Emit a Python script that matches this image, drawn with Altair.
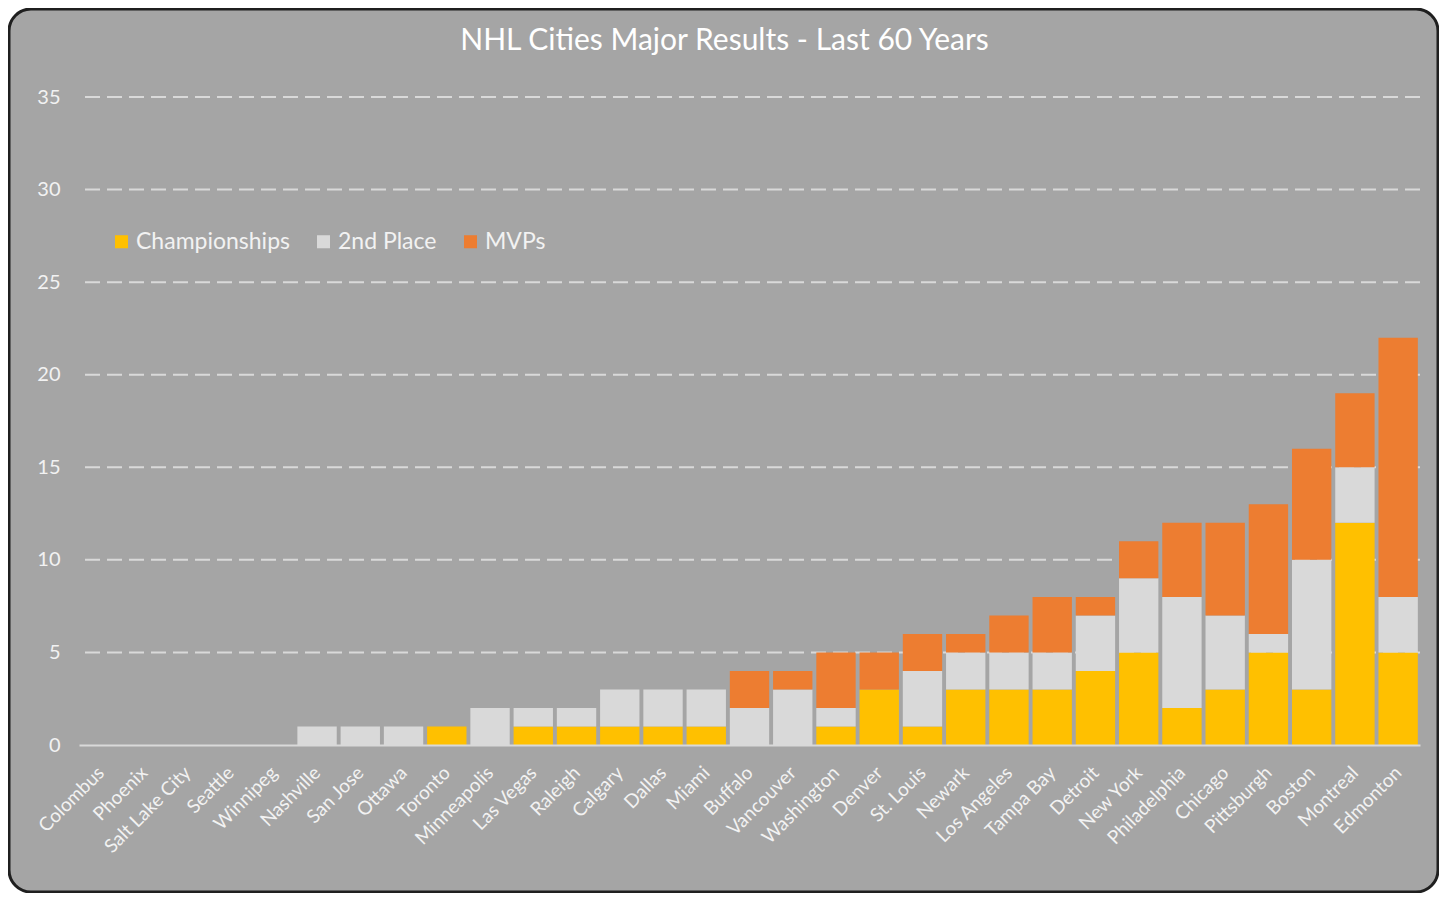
import altair as alt
import pandas as pd

cities = ["Colombus", "Phoenix", "Salt Lake City", "Seattle", "Winnipeg", "Nashville",
          "San Jose", "Ottawa", "Toronto", "Minneapolis", "Las Vegas", "Raleigh",
          "Calgary", "Dallas", "Miami", "Buffalo", "Vancouver", "Washington", "Denver",
          "St. Louis", "Newark", "Los Angeles", "Tampa Bay", "Detroit", "New York",
          "Philadelphia", "Chicago", "Pittsburgh", "Boston", "Montreal", "Edmonton"]
championships = [0, 0, 0, 0, 0, 0, 0, 0, 1, 0, 1, 1, 1, 1, 1, 0, 0, 1, 3, 1, 3, 3, 3, 4, 5, 2, 3, 5, 3, 12, 5]
second_place = [0, 0, 0, 0, 0, 1, 1, 1, 0, 2, 1, 1, 2, 2, 2, 2, 3, 1, 0, 3, 2, 2, 2, 3, 4, 6, 4, 1, 7, 3, 3]
mvps = [0, 0, 0, 0, 0, 0, 0, 0, 0, 0, 0, 0, 0, 0, 0, 2, 1, 3, 2, 2, 1, 2, 3, 1, 2, 4, 5, 7, 6, 4, 14]
series = ["Championships", "2nd Place", "MVPs"]
colors = ["#FFC000", "#D9D9D9", "#ED7D31"]
y_ticks = [0, 5, 10, 15, 20, 25, 30, 35]
grid_ticks = [5, 10, 15, 20, 25, 30, 35]

rows = []
for i, c in enumerate(cities):
    for k, (s, vals) in enumerate(zip(series, [championships, second_place, mvps])):
        rows.append({"city": c, "series": s, "value": vals[i], "ord": k})
df = pd.DataFrame(rows)
grid_df = pd.DataFrame({"value": grid_ticks})
frame_df = pd.DataFrame({"f": [0]})

W, H = 1341, 648
FONT = "Lato"
ydomain = [0, 35]

y_axis = alt.Axis(values=y_ticks, grid=False, domain=False, ticks=False,
                  labelColor="#F2F2F2", labelFontSize=20, labelFont=FONT,
                  labelPadding=19, zindex=1)
y_scale = alt.Scale(domain=ydomain, nice=False)

frame = alt.Chart(frame_df).mark_rect(
    fill="#A5A5A5", stroke="#1F1F1F", strokeWidth=3, cornerRadius=22
).encode(
    x=alt.value(-70), x2=alt.value(W + 18), y=alt.value(-88), y2=alt.value(H + 147)
)

grid = alt.Chart(grid_df).mark_rule(
    color="#D9D9D9", strokeWidth=2, strokeDash=[15, 7]
).encode(
    y=alt.Y("value:Q", title=None, scale=y_scale, axis=y_axis)
)

bars = alt.Chart(df).mark_bar().encode(
    x=alt.X("city:N", sort=cities, title=None,
            scale=alt.Scale(paddingInner=0.09, paddingOuter=0.05),
            axis=alt.Axis(labelAngle=-45, labelColor="#F2F2F2", labelFontSize=19,
                          labelFont=FONT, ticks=False, domainColor="#D9D9D9",
                          domainWidth=2, labelPadding=18, labelOffset=-6, zindex=1)),
    y=alt.Y("value:Q", stack="zero", title=None, scale=y_scale, axis=y_axis),
    color=alt.Color("series:N", scale=alt.Scale(domain=series, range=colors),
                    legend=alt.Legend(title=None, orient="none", direction="horizontal",
                                      legendX=31, legendY=133, symbolType="square",
                                      symbolSize=170, symbolStrokeWidth=0,
                                      labelColor="#F2F2F2", labelFontSize=23,
                                      labelFont=FONT, labelOffset=3, columnPadding=22,
                                      zindex=1)),
    order=alt.Order("ord:Q", sort="ascending"),
)

chart = alt.layer(frame, grid, bars).properties(
    width=W, height=H,
    title=alt.Title("NHL Cities Major Results - Last 60 Years", color="#FFFFFF",
                    fontSize=30, font=FONT, fontWeight="normal", anchor="middle",
                    frame="group", dx=-25, offset=-48, zindex=1),
    autosize=alt.AutoSizeParams(type="none"),
    padding={"left": 71, "top": 89, "right": 19, "bottom": 148},
).configure(background="#FFFFFF").configure_view(stroke=None)

chart.save("out.html", embed_options={"renderer": "svg", "actions": False})
